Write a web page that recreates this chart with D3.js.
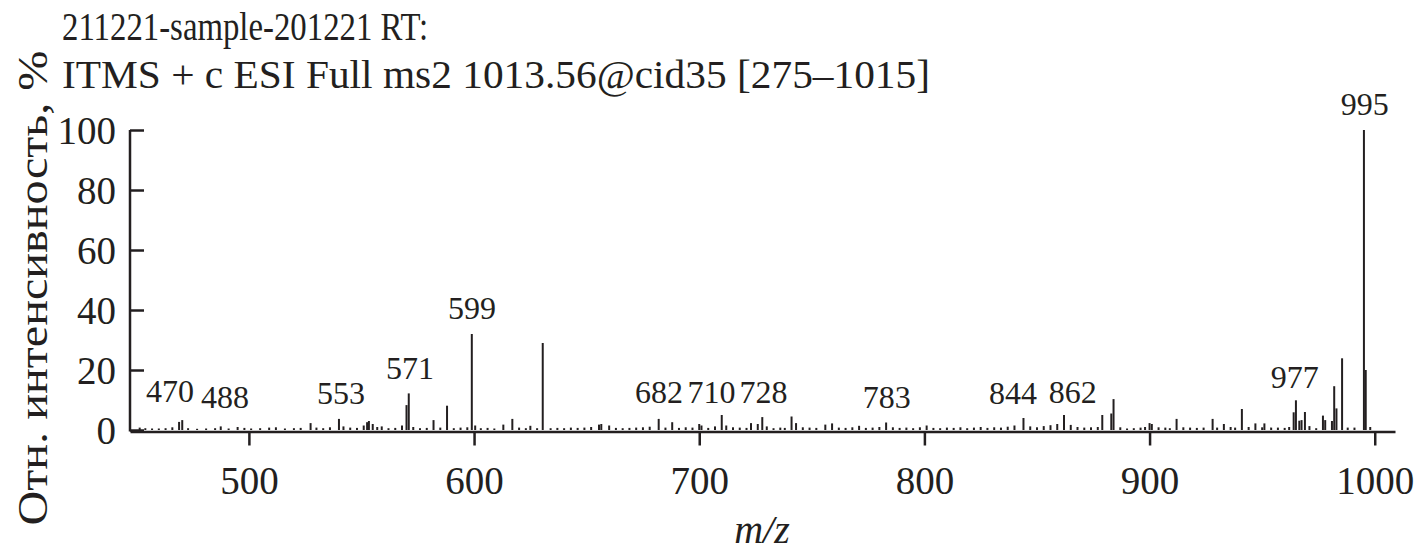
<!DOCTYPE html>
<html>
<head>
<meta charset="utf-8">
<script src="https://cdn.jsdelivr.net/npm/d3@7"></script>
<style>
  html, body { margin: 0; padding: 0; background: #fff; }
  svg text { font-family: "Liberation Serif", "Times New Roman", serif; fill: #231f20; }
</style>
</head>
<body>
<svg id="chart" width="1415" height="555"></svg>
<script>
// ---- data ----
const titleLines = ["211221-sample-201221  RT:", "ITMS + c ESI Full ms2 1013.56@cid35 [275\u20131015]"];
const yLabel = "Отн. интенсивность, %";
const xLabel = "m/z";
const xTicks = [500, 600, 700, 800, 900, 1000];
const yTicks = [0, 20, 40, 60, 80, 100];

const peakMz = [
  451.5, 454, 457, 460, 463, 466, 469, 470.4, 473, 477, 481, 485, 487.5, 491, 495, 498,
  501, 505, 509, 512, 516, 520, 523, 527.4, 530, 533, 536, 540, 542, 545, 548, 551,
  552.5, 553.3, 555, 557, 559, 562, 565, 568, 570, 571, 573, 576, 579, 582, 585, 588,
  591, 594, 597, 599, 600.5, 603, 606, 609, 613, 617, 620, 623, 625, 628, 630.5, 634,
  637, 640, 643, 646, 649, 652, 655.5, 656.5, 660, 663, 666, 669, 672, 675, 678, 682,
  685, 688, 691, 694, 697, 700, 701, 704, 707, 710, 712, 715, 718, 721, 723, 726,
  728, 730, 733, 736, 738, 741, 743, 746, 749, 752, 756, 759, 762, 765, 768, 771,
  774, 777, 780, 783, 786, 789, 792, 795, 798, 801, 804, 807, 810, 813, 816, 819,
  822, 825, 828, 831, 834, 837, 840, 844, 847, 850, 853, 856, 859, 862, 865, 868,
  871, 874, 877, 879, 883, 884, 887, 890, 893, 896, 898, 900, 901, 904, 907, 909,
  912, 915, 918, 921, 924, 928, 930, 933, 936, 938, 941, 944, 947, 950, 951, 954,
  957, 960, 962, 964, 965, 966.5, 967.5, 969, 971, 974, 977, 978, 981, 982, 983, 985.5,
  988, 991, 995.2, 996, 998
];
const peakIntensity = [
  0.8, 0.6, 0.5, 0.5, 0.6, 0.9, 2.7, 3.3, 0.6, 0.4, 0.5, 0.6, 1.2, 0.5, 1.0, 0.7,
  0.5, 0.6, 0.8, 0.9, 0.5, 0.6, 0.7, 2.3, 0.8, 0.6, 0.9, 3.7, 1.2, 0.8, 0.7, 1.5,
  2.6, 3.0, 2.0, 1.0, 1.2, 0.6, 0.7, 1.5, 8.3, 12.2, 1.0, 0.6, 0.7, 3.3, 0.8, 8.1,
  0.6, 0.8, 0.9, 32.0, 1.5, 0.6, 0.7, 0.5, 1.8, 3.7, 0.8, 0.6, 1.4, 0.6, 29.0, 0.6,
  0.7, 0.6, 0.8, 0.7, 0.8, 1.0, 1.8, 2.0, 1.5, 0.7, 0.6, 0.7, 0.8, 0.9, 1.1, 3.7,
  0.8, 2.6, 0.7, 0.9, 0.8, 2.0, 1.5, 0.7, 1.2, 5.0, 1.5, 0.9, 0.8, 0.7, 2.3, 2.0,
  4.3, 1.2, 0.6, 0.8, 0.7, 4.5, 2.3, 0.9, 0.8, 0.7, 1.8, 2.2, 0.8, 0.7, 0.9, 1.4,
  0.7, 0.8, 1.0, 2.5, 0.9, 0.7, 0.8, 0.6, 0.9, 1.5, 0.7, 0.6, 0.8, 0.7, 0.9, 0.6,
  0.8, 1.0, 0.7, 0.9, 0.8, 1.1, 1.5, 4.0, 1.2, 0.9, 1.3, 1.6, 2.0, 5.0, 1.7, 1.0,
  0.8, 0.9, 1.0, 5.0, 5.5, 10.3, 0.9, 0.5, 0.6, 0.8, 1.0, 2.3, 2.0, 0.9, 0.8, 0.6,
  3.7, 0.9, 0.8, 0.7, 0.8, 3.7, 0.8, 2.0, 1.0, 0.8, 7.0, 1.0, 2.2, 0.9, 2.2, 0.8,
  0.8, 0.7, 1.0, 5.9, 9.9, 3.1, 3.3, 6.0, 1.3, 0.6, 4.8, 3.3, 3.0, 14.6, 7.2, 23.9,
  0.8, 0.8, 100.0, 20.0, 1.0
];

// peak annotations: text, anchor m/z, height (in % units)
const labelText  = ["470", "488", "553", "571", "599", "682", "710", "728", "783", "844", "862", "977", "995"];
const labelMz    = [465.0, 489.4, 540.9, 571.5, 599.1, 682.1, 705.4, 728.5, 783.3, 839.3, 865.9, 964.5, 995.6];
const labelLevel = [9.4, 7.3, 8.7, 17.0, 36.9, 8.9, 8.9, 8.9, 7.2, 8.7, 9.1, 14.0, 105.0];

// ---- chart ----
const svg = d3.select("#chart");
const ink = "#231f20";
const serif = '"Liberation Serif", "Times New Roman", serif';

const x = d3.scaleLinear().domain([447.2, 1009]).range([130, 1395]);
const y = d3.scaleLinear().domain([0, 100]).range([430, 130]);

// bars
const peaks = peakMz.map((m, i) => ({ mz: m, v: peakIntensity[i] }));
svg.append("g")
  .selectAll("line")
  .data(peaks)
  .join("line")
  .attr("x1", d => x(d.mz)).attr("x2", d => x(d.mz))
  .attr("y1", y(0)).attr("y2", d => y(d.v))
  .attr("stroke", ink)
  .attr("stroke-width", 2);

// y axis (ticks pointing inward)
const gy = svg.append("g")
  .attr("transform", `translate(${x.range()[0]},0)`)
  .call(d3.axisLeft(y).tickValues(yTicks).tickSizeInner(-14).tickSizeOuter(0).tickPadding(14));
gy.select(".domain").attr("stroke", ink).attr("stroke-width", 2.5).attr("d", `M0,${y(100)}V${y(0) + 1.5}`);
gy.selectAll(".tick line").attr("stroke", ink).attr("stroke-width", 2.5);
gy.selectAll(".tick text").attr("font-size", 39).attr("fill", ink)
  .style("font-family", serif).attr("dy", "0.34em");

// x axis
const gx = svg.append("g")
  .attr("transform", `translate(0,${y(0) + 1.5})`)
  .call(d3.axisBottom(x).tickValues(xTicks).tickFormat(d3.format("d")).tickSizeInner(14).tickSizeOuter(0).tickPadding(21));
gx.select(".domain").attr("stroke", ink).attr("stroke-width", 2.5);
gx.selectAll(".tick line").attr("stroke", ink).attr("stroke-width", 2.5);
gx.selectAll(".tick text").attr("font-size", 39).attr("fill", ink)
  .style("font-family", serif);

// peak labels
svg.append("g")
  .selectAll("text")
  .data(labelText.map((t, i) => ({ t, mz: labelMz[i], lv: labelLevel[i] })))
  .join("text")
  .attr("x", d => x(d.mz))
  .attr("y", d => y(d.lv))
  .attr("text-anchor", "middle")
  .attr("font-size", 32)
  .text(d => d.t);

// title
svg.append("text").attr("x", 62).attr("y", 40).attr("font-size", 41)
  .attr("textLength", 366).attr("lengthAdjust", "spacingAndGlyphs").text(titleLines[0]);
svg.append("text").attr("x", 62).attr("y", 88).attr("font-size", 41)
  .attr("textLength", 868).attr("lengthAdjust", "spacingAndGlyphs").text(titleLines[1]);

// y label
svg.append("text")
  .attr("transform", "translate(47,288) rotate(-90)")
  .attr("text-anchor", "middle")
  .attr("font-size", 43)
  .attr("textLength", 475).attr("lengthAdjust", "spacingAndGlyphs")
  .text(yLabel);

// x label
svg.append("text")
  .attr("x", 762).attr("y", 543)
  .attr("text-anchor", "middle")
  .attr("font-size", 40)
  .attr("font-style", "italic")
  .text(xLabel);
</script>
</body>
</html>
